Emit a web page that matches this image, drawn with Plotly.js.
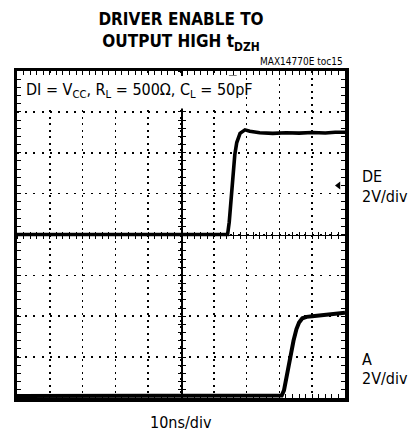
<!DOCTYPE html>
<html>
<head>
<meta charset="utf-8">
<script src="https://cdn.plot.ly/plotly-3.0.1.min.js"></script>
<style>html,body{margin:0;padding:0;background:#fff;}#chart{width:420px;height:436px;}</style>
</head>
<body>
<div id="chart"></div>
<script>
// ---- data ----
// time axis: 10 divisions x 10 ns/div
const timeDE = [0, 10, 20, 30, 40, 50, 60, 64.2, 64.7, 65.2, 65.9, 66.4, 67.0, 68.0, 69.5, 71, 74, 78, 82, 86, 90, 94, 97, 100];
const voltsDE = [0, 0, 0, 0, 0, 0, 0, 0, 0.6, 1.6, 2.8, 3.9, 4.5, 4.95, 5.12, 5.05, 4.98, 4.95, 4.98, 4.96, 4.99, 4.97, 5.0, 5.0];
const timeA = [0, 10, 20, 30, 40, 50, 60, 70, 80, 80.7, 81.4, 82.3, 83.3, 84.3, 85.2, 86.0, 87.0, 88.3, 90, 95, 100];
const voltsA = [0.1, 0.1, 0.1, 0.1, 0.1, 0.1, 0.1, 0.1, 0.1, 0.12, 0.37, 1.18, 1.99, 2.8, 3.37, 3.69, 3.9, 3.97, 4.0, 4.08, 4.17];
const offsetDE = 0;    // DE ground at centre line
const offsetA = -8;    // A ground at bottom of screen
const triggerTime = 65.8;
const triggerLevel = 2.4;
const xDivs = [0, 100];
const yDivs = [-8, 8];

const narrow = "Liberation Sans Narrow, DejaVu Sans Condensed, Arial Narrow, sans-serif";

const traces = [
  {x: timeDE, y: voltsDE.map(v => v + offsetDE), mode: 'lines', line: {color: '#000', width: 3.6}, hoverinfo: 'skip'},
  {x: timeA, y: voltsA.map(v => v + offsetA), mode: 'lines', line: {color: '#000', width: 4}, hoverinfo: 'skip'},
  {x: [triggerTime], y: [yDivs[1] - 0.3], mode: 'markers', marker: {symbol: 'triangle-down', size: 7, color: '#000'}, cliponaxis: false, hoverinfo: 'skip'},
  {x: [xDivs[1] - 2], y: [triggerLevel], mode: 'markers', marker: {symbol: 'triangle-left', size: 7, color: '#000'}, cliponaxis: false, hoverinfo: 'skip'},
  // carriers for the centre graticule axes
  {x: [], y: [], xaxis: 'x2', yaxis: 'y', hoverinfo: 'skip'},
  {x: [], y: [], xaxis: 'x3', yaxis: 'y', hoverinfo: 'skip'},
  {x: [], y: [], xaxis: 'x', yaxis: 'y2', hoverinfo: 'skip'},
  {x: [], y: [], xaxis: 'x', yaxis: 'y3', hoverinfo: 'skip'}
];

const borderAxis = {
  showline: true, linewidth: 3.5, linecolor: '#000', mirror: 'allticks',
  ticks: 'inside', ticklen: 4, tickwidth: 1, tickcolor: '#000',
  showticklabels: false, zeroline: false,
  showgrid: true, gridcolor: '#000', gridwidth: 1.6,
  fixedrange: true
};
const centreX = {overlaying: 'x', anchor: 'free', position: 0.5, range: xDivs, showline: true, linewidth: 1.5, linecolor: '#000',
  dtick: 2, tick0: 0, ticklen: 3, tickwidth: 1, tickcolor: '#000', showticklabels: false, showgrid: false, zeroline: false};
const centreY = {overlaying: 'y', anchor: 'free', position: 0.5, range: yDivs, showline: true, linewidth: 1.5, linecolor: '#000',
  dtick: 0.4, tick0: 0, ticklen: 3, tickwidth: 1, tickcolor: '#000', showticklabels: false, showgrid: false, zeroline: false};

const layout = {
  width: 420, height: 436,
  margin: {l: 17, r: 75, t: 71, b: 38, pad: 0},
  paper_bgcolor: '#fff', plot_bgcolor: '#fff',
  showlegend: false,
  title: {
    text: '<b>DRIVER ENABLE TO<br>OUTPUT HIGH t<sub>DZH</sub></b>',
    font: {family: narrow, size: 17, color: '#000'},
    xref: 'paper', x: 0.5, xanchor: 'center',
    yref: 'container', y: 0.942, yanchor: 'middle'
  },
  xaxis: Object.assign({}, borderAxis, {range: xDivs, dtick: 10, tick0: 0, griddash: '2px,4.54px',
    minor: {dtick: 2, ticks: 'inside', ticklen: 4, tickwidth: 1, tickcolor: '#000', showgrid: false}}),
  yaxis: Object.assign({}, borderAxis, {range: yDivs, dtick: 2, tick0: 0, griddash: '2px,6.2px',
    minor: {dtick: 0.4, ticks: 'inside', ticklen: 4, tickwidth: 1, tickcolor: '#000', showgrid: false}}),
  xaxis2: Object.assign({}, centreX, {ticks: 'outside'}),
  xaxis3: Object.assign({}, centreX, {ticks: 'inside'}),
  yaxis2: Object.assign({}, centreY, {ticks: 'outside'}),
  yaxis3: Object.assign({}, centreY, {ticks: 'inside'}),
  shapes: [
    {type: 'rect', xref: 'paper', yref: 'paper', x0: 0.015, x1: 0.69, y0: 0.885, y1: 0.985,
     fillcolor: '#fff', line: {width: 0}, layer: 'above'}
  ],
  annotations: [
    {text: 'DI = V<sub>CC</sub>, R<sub>L</sub> = 500Ω, C<sub>L</sub> = 50pF', xref: 'paper', yref: 'paper',
     x: 0.022, y: 0.94, xanchor: 'left', yanchor: 'middle', showarrow: false,
     font: {family: narrow, size: 16, color: '#000'}},
    {text: 'MAX14770E toc15', xref: 'paper', yref: 'paper', x: 1, y: 1.005, xanchor: 'right', yanchor: 'bottom',
     showarrow: false, font: {family: narrow, size: 10, color: '#000'}},
    {text: 'DE', xref: 'paper', yref: 'paper', x: 1.045, y: (398 - 176) / 327, xanchor: 'left', yanchor: 'middle',
     showarrow: false, font: {family: narrow, size: 16, color: '#000'}},
    {text: '2V/div', xref: 'paper', yref: 'paper', x: 1.045, y: (398 - 196) / 327, xanchor: 'left', yanchor: 'middle',
     showarrow: false, font: {family: narrow, size: 16, color: '#000'}},
    {text: 'A', xref: 'paper', yref: 'paper', x: 1.045, y: (398 - 359) / 327, xanchor: 'left', yanchor: 'middle',
     showarrow: false, font: {family: narrow, size: 16, color: '#000'}},
    {text: '2V/div', xref: 'paper', yref: 'paper', x: 1.045, y: (398 - 378) / 327, xanchor: 'left', yanchor: 'middle',
     showarrow: false, font: {family: narrow, size: 16, color: '#000'}},
    {text: '10ns/div', xref: 'paper', yref: 'paper', x: 0.5, y: -0.076, xanchor: 'center', yanchor: 'middle',
     showarrow: false, font: {family: narrow, size: 16, color: '#000'}}
  ]
};

Plotly.newPlot('chart', traces, layout, {staticPlot: true, displayModeBar: false});
</script>
</body>
</html>
